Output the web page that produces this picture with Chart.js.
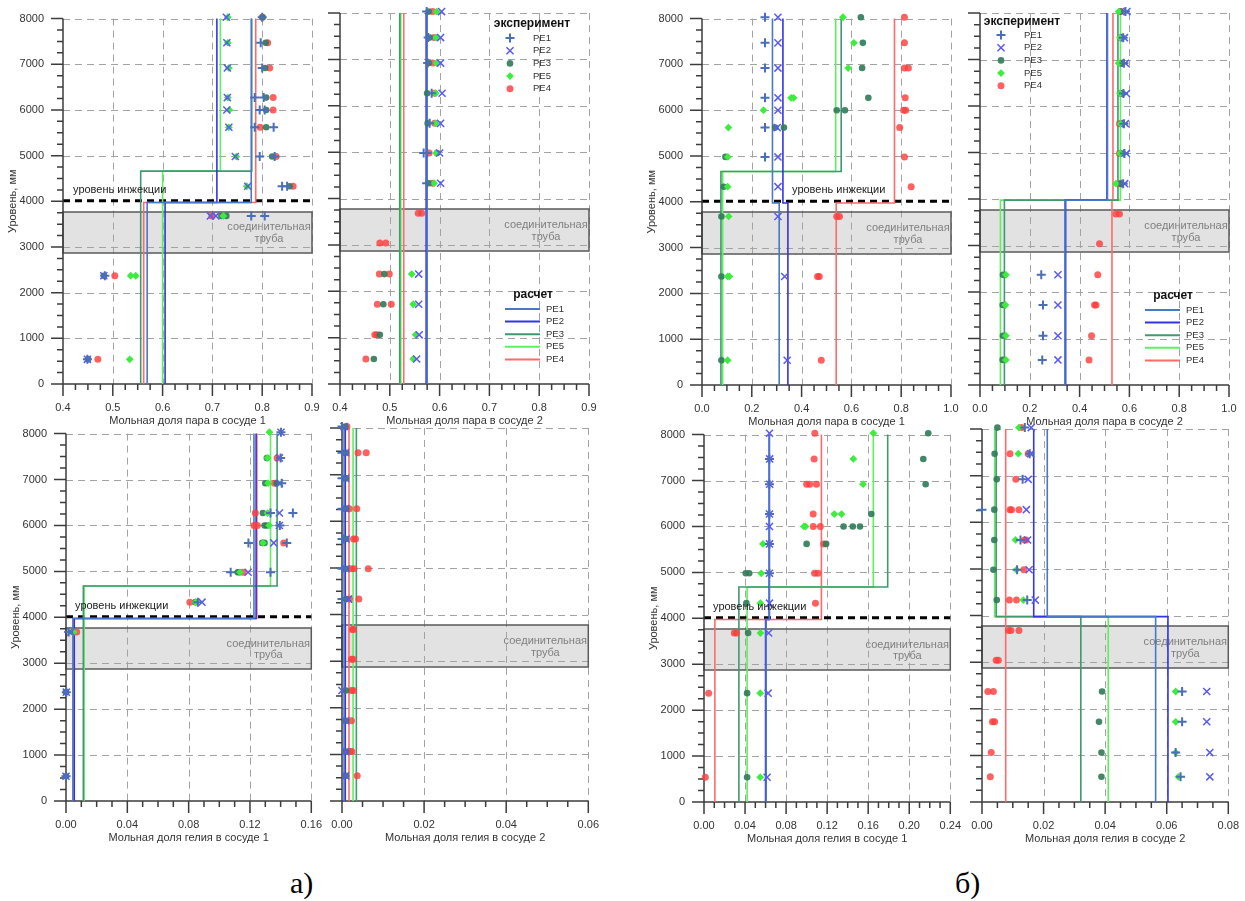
<!DOCTYPE html>
<html><head><meta charset="utf-8">
<script src="https://cdn.jsdelivr.net/npm/chart.js@4.4.1/dist/chart.umd.min.js"></script>
<style>
html,body{margin:0;padding:0;background:#fff;width:1245px;height:901px;overflow:hidden;position:relative}
canvas{position:absolute}
.lab{position:absolute;font-family:"Liberation Serif","Times New Roman",serif;font-size:30px;line-height:30px;color:#000}
</style></head><body>
<div class="lab" style="left:290px;top:868px">а)</div>
<div class="lab" style="left:955px;top:868px">б)</div>
<script>
// ---------- common ----------
const SERIES = ['PE1','PE2','PE3','PE5','PE4'];
const Y_TICKS = [0,1000,2000,3000,4000,5000,6000,7000,8000];
const PIPE_RANGE = [2870, 3770];
const PIPE_LABEL = ['соединительная','труба'];
const INJECTION_LEVEL = 4000;
const INJECTION_LABEL = 'уровень инжекции';
const Y_TITLE = 'Уровень, мм';
const LEG_EXP = 'эксперимент';
const LEG_CALC = 'расчет';

const X_TICKS_VAP_A = [0.4,0.5,0.6,0.7,0.8,0.9];
const X_TICKS_VAP_B = [0.0,0.2,0.4,0.6,0.8,1.0];
const X_TICKS_HE1_A = [0.00,0.04,0.08,0.12,0.16];
const X_TICKS_HE2_A = [0.00,0.02,0.04,0.06];
const X_TICKS_HE1_B = [0.00,0.04,0.08,0.12,0.16,0.20,0.24];
const X_TICKS_HE2_B = [0.00,0.02,0.04,0.06,0.08];

// ---------- panel а), vapor, vessel 1 : [x, level] ----------
const a1_PE1 = [[0.800,8030],[0.797,7470],[0.800,6920],[0.785,6270],[0.803,6270],[0.795,6000],[0.805,6000],[0.785,5620],[0.823,5620],[0.795,4980],[0.825,4980],[0.840,4330],[0.850,4330],[0.778,3680],[0.805,3680],[0.484,2370],[0.449,540]];
const a1_PE2 = [[0.728,8030],[0.729,7470],[0.730,6920],[0.730,6270],[0.729,6000],[0.733,5620],[0.746,4980],[0.771,4330],[0.696,3680],[0.707,3680],[0.482,2370],[0.449,540]];
const a1_PE3 = [[0.801,8030],[0.807,7470],[0.806,6920],[0.808,6270],[0.808,6000],[0.808,5620],[0.820,4980],[0.855,4330],[0.718,3680],[0.728,3680],[0.482,2370],[0.450,540]];
const a1_PE5 = [[0.731,8030],[0.731,7470],[0.733,6920],[0.731,6270],[0.734,6000],[0.733,5620],[0.748,4980],[0.769,4330],[0.722,3680],[0.536,2370],[0.546,2370],[0.534,540]];
const a1_PE4 = [[0.800,8030],[0.811,7470],[0.815,6920],[0.822,6270],[0.822,6000],[0.796,5620],[0.828,4980],[0.862,4330],[0.699,3680],[0.504,2370],[0.470,540]];
const c_a1_PE1 = [[0.569,0],[0.569,3975],[0.778,3975],[0.778,8000]];
const c_a1_PE2 = [[0.605,0],[0.605,3975],[0.709,3975],[0.709,8000]];
const c_a1_PE3 = [[0.556,0],[0.556,4660],[0.779,4660],[0.779,8000]];
const c_a1_PE5 = [[0.600,0],[0.600,4660],[0.716,4660],[0.716,8000]];
const c_a1_PE4 = [[0.562,0],[0.562,3975],[0.787,3975],[0.787,8000]];

// ---------- panel а), vapor, vessel 2 ----------
const a2_PE1 = [[0.574,8030],[0.577,7470],[0.576,6920],[0.584,6270],[0.580,5620],[0.568,4980],[0.575,4980],[0.574,4330]];
const a2_PE2 = [[0.604,8030],[0.602,7470],[0.602,6920],[0.605,6270],[0.602,5620],[0.600,4980],[0.602,4330],[0.558,2370],[0.558,1720],[0.559,1060],[0.554,540]];
const a2_PE3 = [[0.578,8030],[0.580,7470],[0.578,6920],[0.575,6270],[0.576,5620],[0.595,4980],[0.578,4330],[0.489,2370],[0.487,1720],[0.480,1060],[0.468,540]];
const a2_PE5 = [[0.594,8030],[0.593,7470],[0.594,6920],[0.592,6270],[0.592,5620],[0.593,4980],[0.589,4330],[0.544,2370],[0.547,1720],[0.552,1060],[0.547,540]];
const a2_PE4 = [[0.586,8030],[0.589,7470],[0.586,6920],[0.590,6270],[0.590,5620],[0.579,4980],[0.586,4330],[0.557,3680],[0.564,3680],[0.480,3040],[0.492,3040],[0.479,2370],[0.499,2370],[0.475,1720],[0.503,1720],[0.470,1060],[0.474,1060],[0.452,540]];
const c_a2_PE1 = [[0.575,0],[0.575,8000]];
const c_a2_PE2 = [[0.573,0],[0.573,8000]];
const c_a2_PE3 = [[0.520,0],[0.520,8000]];
const c_a2_PE5 = [[0.522,0],[0.522,8000]];
const c_a2_PE4 = [[0.528,0],[0.528,8000]];

// ---------- panel б), vapor, vessel 1 ----------
const b1_PE1 = [[0.253,8030],[0.253,7470],[0.253,6920],[0.253,6270],[0.253,5620],[0.253,4980]];
const b1_PE2 = [[0.305,8030],[0.305,7470],[0.305,6920],[0.305,6270],[0.305,6000],[0.302,5620],[0.305,4980],[0.305,4330],[0.305,3680],[0.332,2370],[0.342,540]];
const b1_PE3 = [[0.638,8030],[0.646,7470],[0.643,6920],[0.668,6270],[0.541,6000],[0.574,6000],[0.294,5620],[0.329,5620],[0.094,4980],[0.087,4330],[0.078,3680],[0.078,2370],[0.078,540]];
const b1_PE5 = [[0.566,8030],[0.610,7470],[0.587,6920],[0.358,6270],[0.368,6270],[0.247,6000],[0.106,5620],[0.104,4980],[0.103,4330],[0.107,3680],[0.103,2370],[0.110,2370],[0.103,540]];
const b1_PE4 = [[0.813,8030],[0.813,7470],[0.813,6920],[0.829,6920],[0.816,6270],[0.810,6000],[0.818,6000],[0.794,5620],[0.813,4980],[0.840,4330],[0.541,3680],[0.552,3680],[0.464,2370],[0.471,2370],[0.479,540]];
const c_b1_PE1 = [[0.310,0],[0.310,3975],[0.283,3975],[0.283,8000]];
const c_b1_PE2 = [[0.345,0],[0.345,3975],[0.325,3975],[0.325,8000]];
const c_b1_PE3 = [[0.076,0],[0.076,4660],[0.559,4660],[0.559,8000]];
const c_b1_PE5 = [[0.083,0],[0.083,4660],[0.537,4660],[0.537,8000]];
const c_b1_PE4 = [[0.539,0],[0.539,3975],[0.773,3975],[0.773,8000]];

// ---------- panel б), vapor, vessel 2 ----------
const b2_PE1 = [[0.584,8030],[0.575,7470],[0.578,6920],[0.576,6270],[0.578,5620],[0.580,4980],[0.575,4330],[0.246,2370],[0.253,1720],[0.253,1060],[0.250,540]];
const b2_PE2 = [[0.590,8030],[0.580,7470],[0.584,6920],[0.588,6270],[0.584,5620],[0.588,4980],[0.581,4330],[0.313,2370],[0.313,1720],[0.313,1060],[0.313,540]];
const b2_PE3 = [[0.564,8030],[0.570,7470],[0.564,6920],[0.564,6270],[0.566,5620],[0.566,4980],[0.566,4330],[0.092,2370],[0.091,1720],[0.092,1060],[0.091,540]];
const b2_PE5 = [[0.557,8030],[0.562,7470],[0.557,6920],[0.562,6270],[0.564,5620],[0.562,4980],[0.546,4330],[0.104,2370],[0.102,1720],[0.104,1060],[0.104,540]];
const b2_PE4 = [[0.566,8030],[0.564,7470],[0.570,6920],[0.570,6270],[0.560,5620],[0.560,4980],[0.560,4330],[0.546,3680],[0.560,3680],[0.480,3040],[0.473,2370],[0.460,1720],[0.466,1720],[0.448,1060],[0.438,540]];
const c_b2_PE1 = [[0.341,0],[0.341,3975],[0.512,3975],[0.512,8000]];
const c_b2_PE2 = [[0.344,0],[0.344,3975],[0.510,3975],[0.510,8000]];
const c_b2_PE3 = [[0.098,0],[0.098,3975],[0.554,3975],[0.554,8000]];
const c_b2_PE5 = [[0.082,0],[0.082,3975],[0.564,3975],[0.564,8000]];
const c_b2_PE4 = [[0.530,0],[0.530,3975],[0.534,3975],[0.534,8000]];

// ---------- panel а), helium, vessel 1 ----------
const a3_PE1 = [[0.1402,8030],[0.1400,7470],[0.1407,6920],[0.1334,6270],[0.1480,6270],[0.1395,6000],[0.1190,5620],[0.1440,5620],[0.1074,4980],[0.1334,4980],[0.0860,4330],[0.0017,3680],[0.0002,2370],[0.0000,540]];
const a3_PE2 = [[0.1402,8030],[0.1392,7470],[0.1392,6920],[0.1392,6270],[0.1392,6000],[0.1355,5620],[0.1188,4980],[0.0887,4330],[0.0032,3680],[0.0002,2370],[0.0000,540]];
const a3_PE3 = [[0.1310,7470],[0.1300,6920],[0.1375,6920],[0.1284,6270],[0.1295,6000],[0.1310,6000],[0.1280,5620],[0.1295,5620],[0.1120,4980],[0.1130,4980],[0.0844,4330],[0.0045,3680],[0.0000,2370],[0.0000,540]];
const a3_PE5 = [[0.1327,8030],[0.1315,7470],[0.1318,6920],[0.1315,6270],[0.1325,6000],[0.1285,5620],[0.1135,4980],[0.0845,4330],[0.0050,3680]];
const a3_PE4 = [[0.1377,7470],[0.1360,6920],[0.1235,6270],[0.1226,6000],[0.1248,6000],[0.1420,5620],[0.1155,4980],[0.0808,4330],[0.0070,3680]];
const c_a3_PE1 = [[0.0045,0],[0.0045,3975],[0.1226,3975],[0.1226,8000]];
const c_a3_PE2 = [[0.0054,0],[0.0054,3975],[0.1240,3975],[0.1240,8000]];
const c_a3_PE3 = [[0.0113,0],[0.0113,4680],[0.1377,4680],[0.1377,8000]];
const c_a3_PE5 = [[0.0118,0],[0.0118,4680],[0.1334,4680],[0.1334,8000]];
const c_a3_PE4 = [[0.0050,0],[0.0050,3975],[0.1245,3975],[0.1245,8000]];

// ---------- panel а), helium, vessel 2 ----------
const a4_PE1 = [[0.0000,8030],[0.0000,7470],[0.0000,6920],[0.0000,6270],[0.0000,5620],[0.0004,5620],[0.0000,4980],[0.0000,4330]];
const a4_PE2 = [[0.0005,8030],[0.0009,7470],[0.0009,6920],[0.0009,6270],[0.0010,5620],[0.0010,4980],[0.0016,4330],[0.0000,2370],[0.0009,1720],[0.0009,1060],[0.0009,540]];
const a4_PE3 = [[0.0008,8030],[0.0010,7470],[0.0010,6920],[0.0010,6270],[0.0010,5620],[0.0010,4980],[0.0010,4330],[0.0010,2370],[0.0010,1720],[0.0010,1060],[0.0010,540]];
const a4_PE5 = [];
const a4_PE4 = [[0.0012,8030],[0.0039,7470],[0.0059,7470],[0.0018,6270],[0.0036,6270],[0.0028,5620],[0.0033,5620],[0.0023,4980],[0.0029,4980],[0.0064,4980],[0.0018,4330],[0.0041,4330],[0.0025,3680],[0.0028,3680],[0.0023,3040],[0.0027,3040],[0.0023,2370],[0.0028,2370],[0.0023,1720],[0.0020,1060],[0.0024,1060],[0.0037,540]];
const c_a4_PE1 = [[0.0005,0],[0.0005,8000]];
const c_a4_PE2 = [[0.0008,0],[0.0008,8000]];
const c_a4_PE3 = [[0.0035,0],[0.0035,8000]];
const c_a4_PE5 = [[0.0027,0],[0.0027,8000]];
const c_a4_PE4 = [[0.0017,0],[0.0017,8000]];

// ---------- panel б), helium, vessel 1 ----------
const b3_PE1 = [[0.0638,7470],[0.0638,6920],[0.0638,6270],[0.0638,5620],[0.0638,4980]];
const b3_PE2 = [[0.0638,8030],[0.0640,7470],[0.0640,6920],[0.0638,6270],[0.0638,6000],[0.0638,5620],[0.0638,4980],[0.0638,4330],[0.0630,3680],[0.0625,2370],[0.0615,540]];
const b3_PE3 = [[0.2185,8030],[0.2137,7470],[0.2160,6920],[0.1630,6270],[0.1360,6000],[0.1450,6000],[0.1520,6000],[0.1000,5620],[0.1190,5620],[0.0407,4980],[0.0440,4980],[0.0413,4330],[0.0430,3680],[0.0420,2370],[0.0420,540]];
const b3_PE5 = [[0.1650,8030],[0.1455,7470],[0.1550,6920],[0.1270,6270],[0.1340,6270],[0.0974,6000],[0.0990,6000],[0.0574,5620],[0.0558,4980],[0.0550,4330],[0.0550,3680],[0.0548,2370],[0.0548,540]];
const b3_PE4 = [[0.1080,8030],[0.1073,7470],[0.1000,6920],[0.1030,6920],[0.1096,6920],[0.1064,6270],[0.1064,6000],[0.1134,6000],[0.1166,5620],[0.1077,4980],[0.1110,4980],[0.1086,4330],[0.0295,3680],[0.0317,3680],[0.0045,2370],[0.0013,540]];
const c_b3_PE1 = [[0.0606,0],[0.0606,3975],[0.0638,3975],[0.0638,8000]];
const c_b3_PE2 = [[0.0600,0],[0.0600,3975],[0.0635,3975],[0.0635,8000]];
const c_b3_PE3 = [[0.0340,0],[0.0340,4680],[0.1790,4680],[0.1790,8000]];
const c_b3_PE5 = [[0.0420,0],[0.0420,4680],[0.1650,4680],[0.1650,8000]];
const c_b3_PE4 = [[0.0106,0],[0.0106,3975],[0.1144,3975],[0.1144,8000]];

// ---------- panel б), helium, vessel 2 ----------
const b4_PE1 = [[0.0139,8030],[0.0155,7470],[0.0132,6920],[0.0000,6270],[0.0125,5620],[0.0114,4980],[0.0147,4330],[0.0650,2370],[0.0650,1720],[0.0629,1060],[0.0645,540]];
const b4_PE2 = [[0.0160,8030],[0.0158,7470],[0.0150,6920],[0.0144,6270],[0.0148,5620],[0.0153,4980],[0.0173,4330],[0.0730,2370],[0.0730,1720],[0.0740,1060],[0.0740,540]];
const b4_PE3 = [[0.0050,8030],[0.0041,7470],[0.0048,6920],[0.0040,6270],[0.0040,5620],[0.0037,4980],[0.0048,4330],[0.0390,2370],[0.0380,1720],[0.0388,1060],[0.0388,540]];
const b4_PE5 = [[0.0120,8030],[0.0118,7470],[0.0109,5620],[0.0112,4980],[0.0134,4330],[0.0629,2370],[0.0629,1720],[0.0629,1060],[0.0638,540]];
const b4_PE4 = [[0.0128,8030],[0.0091,7470],[0.0150,7470],[0.0110,6920],[0.0091,6270],[0.0096,6270],[0.0120,6270],[0.0138,5620],[0.0143,5620],[0.0136,4980],[0.0089,4330],[0.0112,4330],[0.0086,3680],[0.0094,3680],[0.0120,3680],[0.0046,3040],[0.0053,3040],[0.0019,2370],[0.0037,2370],[0.0034,1720],[0.0041,1720],[0.0030,1060],[0.0027,540]];
const c_b4_PE1 = [[0.0564,0],[0.0564,3975],[0.0212,3975],[0.0212,8000]];
const c_b4_PE2 = [[0.0604,0],[0.0604,3975],[0.0168,3975],[0.0168,8000]];
const c_b4_PE3 = [[0.0321,0],[0.0321,3975],[0.0046,3975],[0.0046,8000]];
const c_b4_PE5 = [[0.0410,0],[0.0410,3975],[0.0041,3975],[0.0041,8000]];
const c_b4_PE4 = [[0.0077,0],[0.0077,8000]];

// ---------- styles ----------
const FONT = '"Liberation Sans", Arial, sans-serif';
const MARK = {
  PE1:{pointStyle:'cross',   radius:4.5, borderWidth:2,   color:'#4a6fb8', fill:false},
  PE2:{pointStyle:'crossRot',radius:5,   borderWidth:1.5, color:'#5a5af0', fill:false},
  PE3:{pointStyle:'circle',  radius:3.3, borderWidth:0,   color:'rgba(50,125,90,0.92)', fill:true},
  PE5:{pointStyle:'rectRot', radius:3.9, borderWidth:0,   color:'#3ded3d', fill:true},
  PE4:{pointStyle:'circle',  radius:3.5, borderWidth:0,   color:'rgba(255,62,62,0.82)', fill:true}
};
const LINE = {PE1:'#4a78c8', PE2:'#3434e6', PE3:'#3f9a6e', PE5:'#5ef05e', PE4:'#ff6b6b'};
const PT_ORDER = {PE1:1, PE2:2, PE5:3, PE3:4, PE4:5};

function drawMarker(ctx, m, x, y) {
  ctx.save();
  ctx.strokeStyle = m.color; ctx.fillStyle = m.color; ctx.lineWidth = m.borderWidth || 1;
  const r = m.radius;
  ctx.beginPath();
  if (m.pointStyle === 'cross') {
    ctx.moveTo(x-r,y); ctx.lineTo(x+r,y); ctx.moveTo(x,y-r); ctx.lineTo(x,y+r); ctx.stroke();
  } else if (m.pointStyle === 'crossRot') {
    const d = r*Math.SQRT1_2;
    ctx.moveTo(x-d,y-d); ctx.lineTo(x+d,y+d); ctx.moveTo(x-d,y+d); ctx.lineTo(x+d,y-d); ctx.stroke();
  } else if (m.pointStyle === 'rectRot') {
    ctx.moveTo(x,y-r); ctx.lineTo(x+r,y); ctx.lineTo(x,y+r); ctx.lineTo(x-r,y); ctx.closePath(); ctx.fill();
  } else {
    ctx.arc(x,y,r,0,Math.PI*2); ctx.fill();
  }
  ctx.restore();
}

function drawLegend(ctx, ca, L) {
  ctx.save();
  ctx.fillStyle = '#111';
  ctx.font = 'bold 12px ' + FONT; ctx.textAlign = 'center'; ctx.textBaseline = 'middle';
  ctx.fillText(LEG_EXP, ca.left + L.expTitle[0], ca.top + L.expTitle[1]);
  ctx.fillText(LEG_CALC, ca.left + L.calcTitle[0], ca.top + L.calcTitle[1]);
  ctx.font = '9.5px ' + FONT; ctx.textAlign = 'left'; ctx.fillStyle = '#333';
  SERIES.forEach((s, i) => {
    const y = ca.top + L.expRow0 + i*12.7;
    drawMarker(ctx, MARK[s], ca.left + L.expMarkX, y);
    ctx.fillText(s, ca.left + L.expLabX, y);
    const y2 = ca.top + L.calcRow0 + i*12.6;
    ctx.strokeStyle = LINE[s]; ctx.lineWidth = 2;
    ctx.beginPath(); ctx.moveTo(ca.left + L.calcLine[0], y2); ctx.lineTo(ca.left + L.calcLine[1], y2); ctx.stroke();
    ctx.fillText(s, ca.left + L.calcLabX, y2);
  });
  ctx.restore();
}

const decor = {
  id: 'decor',
  beforeDatasetsDraw(chart, args, o) {
    const {ctx, chartArea: ca} = chart;
    const xs = chart.scales.x, ys = chart.scales.y;
    const X = v => xs.getPixelForValue(v), Y = v => ys.getPixelForValue(v);
    ctx.save();
    // pipe box
    const bt = Math.round(Y(PIPE_RANGE[1])), bb = Math.round(Y(PIPE_RANGE[0]));
    ctx.fillStyle = '#e2e2e2';
    ctx.fillRect(ca.left, bt, ca.right - ca.left, bb - bt);
    ctx.font = '11px ' + FONT; ctx.fillStyle = '#7f7f7f';
    ctx.textAlign = 'center'; ctx.textBaseline = 'middle';
    ctx.fillText(PIPE_LABEL[0], ca.right - 43, Y(3430));
    ctx.fillText(PIPE_LABEL[1], ca.right - 43, Y(3170));
    // grid
    ctx.strokeStyle = '#a3a3a3'; ctx.lineWidth = 1; ctx.setLineDash([7,5]);
    ctx.beginPath();
    o.xTicks.forEach((v, i) => { if (i === 0) return; const px = Math.round(X(v)) + 0.5; ctx.moveTo(px, ca.top); ctx.lineTo(px, ca.bottom); });
    Y_TICKS.forEach(v => { if (v === 0) return; if (o.injection && v === INJECTION_LEVEL) return;
      const py = Math.round(Y(v)) + 0.5; ctx.moveTo(ca.left, py); ctx.lineTo(ca.right, py); });
    ctx.stroke();
    ctx.setLineDash([]);
    ctx.strokeStyle = '#5a5a5a'; ctx.lineWidth = 1.5;
    ctx.strokeRect(ca.left, bt, ca.right - ca.left, bb - bt);
    // injection level
    if (o.injection) {
      ctx.strokeStyle = '#000'; ctx.lineWidth = 3; ctx.setLineDash([7,5]);
      const py = Y(INJECTION_LEVEL + 10);
      ctx.beginPath(); ctx.moveTo(ca.left, py); ctx.lineTo(ca.right, py); ctx.stroke();
      ctx.setLineDash([]);
    }
    // axes and tick marks
    ctx.strokeStyle = '#3c3c3c'; ctx.lineWidth = 1.5;
    ctx.beginPath();
    ctx.moveTo(ca.left, ca.top); ctx.lineTo(ca.left, ca.bottom); ctx.lineTo(ca.right, ca.bottom);
    for (let v = 0; v <= 8000; v += 250) {
      const py = Y(v); const len = (v % 1000 === 0) ? 12 : 6;
      ctx.moveTo(ca.left - len, py); ctx.lineTo(ca.left, py);
    }
    const x0 = o.xTicks[0], x1 = o.xTicks[o.xTicks.length - 1];
    const n = Math.round((x1 - x0) / o.minor);
    const per = Math.round((o.xTicks[1] - o.xTicks[0]) / o.minor);
    for (let i = 0; i <= n; i++) {
      const px = X(x0 + i * o.minor); const len = (i % per === 0) ? 12 : 6;
      ctx.moveTo(px, ca.bottom); ctx.lineTo(px, ca.bottom + len);
    }
    ctx.stroke();
    ctx.restore();
  },
  afterDraw(chart, args, o) {
    const {ctx, chartArea: ca} = chart;
    const ys = chart.scales.y;
    ctx.save();
    ctx.fillStyle = '#333'; ctx.font = '11px ' + FONT;
    ctx.textAlign = 'center'; ctx.textBaseline = 'middle';
    ctx.fillText(o.xTitle, (ca.left + ca.right) / 2, ca.bottom + 37);
    if (o.yTitle) {
      ctx.save();
      ctx.translate(ca.left - 50, (ca.top + ca.bottom) / 2);
      ctx.rotate(-Math.PI / 2);
      ctx.fillText(Y_TITLE, 0, 0);
      ctx.restore();
    }
    if (o.injection) {
      ctx.fillStyle = '#222'; ctx.textAlign = 'left';
      ctx.fillText(INJECTION_LABEL, ca.left + o.injection.dx, ys.getPixelForValue(4250));
    }
    ctx.restore();
    if (o.legend) drawLegend(ctx, ca, o.legend);
  }
};

function pts(arr) { return arr.map(p => ({x: p[0], y: p[1]})); }

function buildPanel(p) {
  const L = 70, T = 20, R = 25, B = 52, YW = 60, XH = 42;
  const w = p.rect[2] - p.rect[0], h = p.rect[3] - p.rect[1];
  const cv = document.createElement('canvas');
  cv.width = w + L + R; cv.height = h + T + B;
  cv.style.left = (p.rect[0] - L) + 'px'; cv.style.top = (p.rect[1] - T) + 'px';
  cv.style.width = cv.width + 'px'; cv.style.height = cv.height + 'px';
  document.body.appendChild(cv);
  const ds = [];
  SERIES.forEach(s => {
    const m = MARK[s];
    ds.push({label: 'exp ' + s, data: pts(p.exp[s]), showLine: false,
      pointStyle: m.pointStyle, pointRadius: m.radius, pointBorderWidth: m.borderWidth,
      pointBorderColor: m.color, pointBackgroundColor: m.fill ? m.color : 'rgba(0,0,0,0)',
      clip: false, order: PT_ORDER[s]});
  });
  SERIES.forEach(s => {
    ds.push({label: 'calc ' + s, data: pts(p.calc[s]), showLine: true, borderColor: LINE[s],
      borderWidth: 1.6, pointRadius: 0, fill: false, tension: 0, clip: false, order: 10});
  });
  const xt = p.xTicks;
  new Chart(cv, {
    type: 'scatter',
    data: {datasets: ds},
    options: {
      responsive: false, animation: false, events: [], devicePixelRatio: 1,
      layout: {padding: {left: L - YW, top: T, right: R, bottom: B - XH}},
      plugins: {legend: {display: false}, tooltip: {enabled: false},
        decor: {xTicks: xt, minor: p.minor, injection: p.injection, xTitle: p.xTitle, yTitle: p.yLabels, legend: p.legend}},
      scales: {
        x: {type: 'linear', min: xt[0], max: xt[xt.length - 1],
          afterBuildTicks: s => { s.ticks = xt.map(v => ({value: v})); },
          ticks: {callback: v => Number(v).toFixed(p.dec), font: {family: FONT, size: 11}, color: '#333', padding: 17, maxRotation: 0, autoSkip: false},
          grid: {display: false, drawTicks: false}, border: {display: false},
          afterFit: s => { s.height = XH; }},
        y: {type: 'linear', min: 0, max: 8000,
          afterBuildTicks: s => { s.ticks = Y_TICKS.map(v => ({value: v})); },
          ticks: {display: p.yLabels, callback: v => String(Math.round(v)), font: {family: FONT, size: 11}, color: '#333', padding: 19, autoSkip: false},
          grid: {display: false, drawTicks: false}, border: {display: false},
          afterFit: s => { s.width = YW; }}
      }
    },
    plugins: [decor]
  });
}

const LEG_A = {expTitle:[192,11], expMarkX:170, expLabX:193, expRow0:25, calcTitle:[193,282], calcLine:[165,200], calcLabX:206, calcRow0:296};
const LEG_B = {expTitle:[42,9], expMarkX:21, expLabX:44, expRow0:22, calcTitle:[193,283], calcLine:[165,200], calcLabX:206, calcRow0:297};
const TITLE_V1 = 'Мольная доля пара в сосуде 1', TITLE_V2 = 'Мольная доля пара в сосуде 2';
const TITLE_H1 = 'Мольная доля гелия в сосуде 1', TITLE_H2 = 'Мольная доля гелия в сосуде 2';

buildPanel({rect:[63,13,312,384], xTicks:X_TICKS_VAP_A, dec:1, minor:0.025, yLabels:true, injection:{dx:10}, xTitle:TITLE_V1,
  exp:{PE1:a1_PE1,PE2:a1_PE2,PE3:a1_PE3,PE5:a1_PE5,PE4:a1_PE4}, calc:{PE1:c_a1_PE1,PE2:c_a1_PE2,PE3:c_a1_PE3,PE5:c_a1_PE5,PE4:c_a1_PE4}});
buildPanel({rect:[340,13,589,384], xTicks:X_TICKS_VAP_A, dec:1, minor:0.025, yLabels:false, injection:null, xTitle:TITLE_V2, legend:LEG_A,
  exp:{PE1:a2_PE1,PE2:a2_PE2,PE3:a2_PE3,PE5:a2_PE5,PE4:a2_PE4}, calc:{PE1:c_a2_PE1,PE2:c_a2_PE2,PE3:c_a2_PE3,PE5:c_a2_PE5,PE4:c_a2_PE4}});
buildPanel({rect:[702,13,951,385], xTicks:X_TICKS_VAP_B, dec:1, minor:0.05, yLabels:true, injection:{dx:90}, xTitle:TITLE_V1,
  exp:{PE1:b1_PE1,PE2:b1_PE2,PE3:b1_PE3,PE5:b1_PE5,PE4:b1_PE4}, calc:{PE1:c_b1_PE1,PE2:c_b1_PE2,PE3:c_b1_PE3,PE5:c_b1_PE5,PE4:c_b1_PE4}});
buildPanel({rect:[980,13,1229,385], xTicks:X_TICKS_VAP_B, dec:1, minor:0.05, yLabels:false, injection:null, xTitle:TITLE_V2, legend:LEG_B,
  exp:{PE1:b2_PE1,PE2:b2_PE2,PE3:b2_PE3,PE5:b2_PE5,PE4:b2_PE4}, calc:{PE1:c_b2_PE1,PE2:c_b2_PE2,PE3:c_b2_PE3,PE5:c_b2_PE5,PE4:c_b2_PE4}});
buildPanel({rect:[66,428,314,801], xTicks:X_TICKS_HE1_A, dec:2, minor:0.01, yLabels:true, injection:{dx:9}, xTitle:TITLE_H1,
  exp:{PE1:a3_PE1,PE2:a3_PE2,PE3:a3_PE3,PE5:a3_PE5,PE4:a3_PE4}, calc:{PE1:c_a3_PE1,PE2:c_a3_PE2,PE3:c_a3_PE3,PE5:c_a3_PE5,PE4:c_a3_PE4}});
buildPanel({rect:[342,428,591,801], xTicks:X_TICKS_HE2_A, dec:2, minor:0.005, yLabels:false, injection:null, xTitle:TITLE_H2,
  exp:{PE1:a4_PE1,PE2:a4_PE2,PE3:a4_PE3,PE5:a4_PE5,PE4:a4_PE4}, calc:{PE1:c_a4_PE1,PE2:c_a4_PE2,PE3:c_a4_PE3,PE5:c_a4_PE5,PE4:c_a4_PE4}});
buildPanel({rect:[704,429,953,802], xTicks:X_TICKS_HE1_B, dec:2, minor:0.01, yLabels:true, injection:{dx:9}, xTitle:TITLE_H1,
  exp:{PE1:b3_PE1,PE2:b3_PE2,PE3:b3_PE3,PE5:b3_PE5,PE4:b3_PE4}, calc:{PE1:c_b3_PE1,PE2:c_b3_PE2,PE3:c_b3_PE3,PE5:c_b3_PE5,PE4:c_b3_PE4}});
buildPanel({rect:[982,429,1231,802], xTicks:X_TICKS_HE2_B, dec:2, minor:0.005, yLabels:false, injection:null, xTitle:TITLE_H2,
  exp:{PE1:b4_PE1,PE2:b4_PE2,PE3:b4_PE3,PE5:b4_PE5,PE4:b4_PE4}, calc:{PE1:c_b4_PE1,PE2:c_b4_PE2,PE3:c_b4_PE3,PE5:c_b4_PE5,PE4:c_b4_PE4}});
</script></body></html>
